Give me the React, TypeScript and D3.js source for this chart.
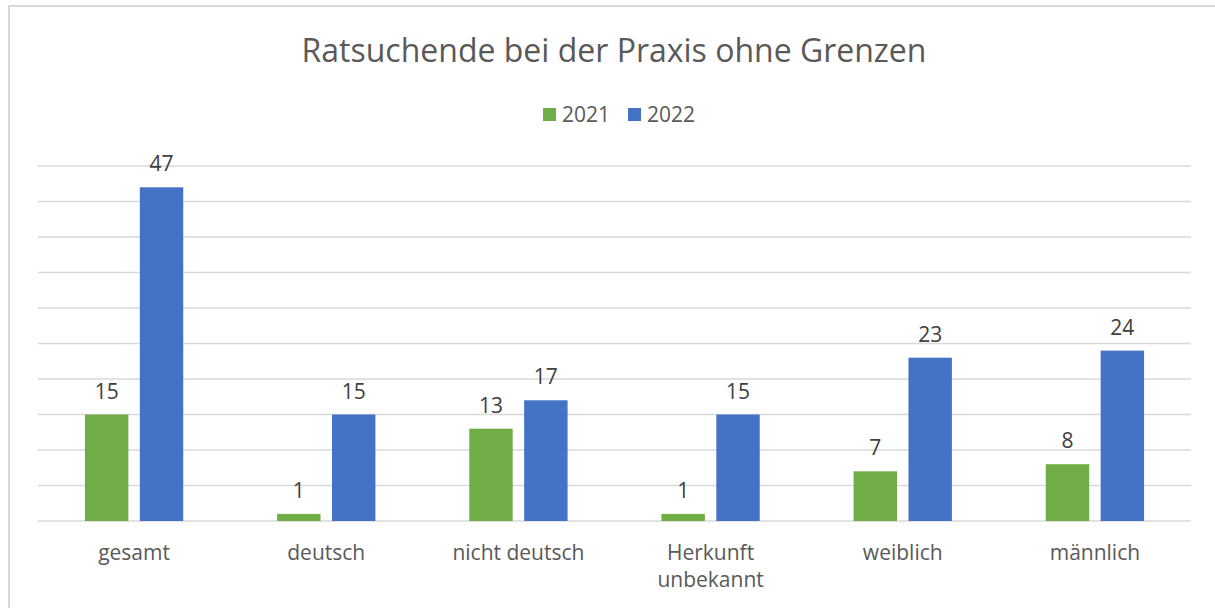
import React, { useEffect, useRef } from "react";
import { select, scaleBand, scaleLinear, range } from "d3";

const categories = ["gesamt", "deutsch", "nicht deutsch", "Herkunft unbekannt", "weiblich", "männlich"];
const categoryLines = [["gesamt"], ["deutsch"], ["nicht deutsch"], ["Herkunft", "unbekannt"], ["weiblich"], ["männlich"]];
const seriesNames = ["2021", "2022"];
const values2021 = [15, 1, 13, 1, 7, 8];
const values2022 = [47, 15, 17, 15, 23, 24];
const yTicks = range(0, 51, 5);

const colors = { "2021": "#70AD47", "2022": "#4472C4" };
const FONT = "'Segoe UI', 'Open Sans', sans-serif";

const App = () => {
  const svgRef = useRef<SVGSVGElement>(null);

  useEffect(() => {
    const svg = select(svgRef.current);
    svg.selectAll("*").remove();

    // outer frame
    svg.append("rect")
      .attr("x", 9).attr("y", 6)
      .attr("width", 1230).attr("height", 640)
      .attr("fill", "#fff")
      .attr("stroke", "#d9d9d9")
      .attr("stroke-width", 2);

    const x = scaleBand().domain(categories).range([38, 1191]).padding(0);
    const x1 = scaleBand().domain(seriesNames).range([0, x.bandwidth()])
      .paddingInner(0.209).paddingOuter(0.855);
    const y = scaleLinear().domain([0, 50]).range([521, 166]);

    svg.append("g").selectAll("line")
      .data(yTicks)
      .join("line")
      .attr("x1", 38).attr("x2", 1191)
      .attr("y1", (d) => y(d)).attr("y2", (d) => y(d))
      .attr("stroke", "#d9d9d9")
      .attr("stroke-width", 1.5);

    const rows = categories.map((c, i) => ({ c, v: { "2021": values2021[i], "2022": values2022[i] } }));
    const groups = svg.append("g").selectAll("g")
      .data(rows)
      .join("g")
      .attr("transform", (d) => `translate(${x(d.c)},0)`);

    seriesNames.forEach((s) => {
      groups.append("rect")
        .attr("x", x1(s))
        .attr("y", (d) => y(d.v[s]))
        .attr("width", x1.bandwidth())
        .attr("height", (d) => y(0) - y(d.v[s]))
        .attr("fill", colors[s]);
      groups.append("text")
        .attr("x", x1(s) + x1.bandwidth() / 2)
        .attr("y", (d) => y(d.v[s]) - 16)
        .attr("text-anchor", "middle")
        .attr("font-family", FONT)
        .attr("font-size", 21)
        .attr("fill", "#404040")
        .text((d) => d.v[s]);
    });

    // category labels
    categories.forEach((c, i) => {
      const t = svg.append("text")
        .attr("text-anchor", "middle")
        .attr("font-family", FONT)
        .attr("font-size", 21)
        .attr("fill", "#595959");
      categoryLines[i].forEach((line, j) => {
        t.append("tspan")
          .attr("x", x(c) + x.bandwidth() / 2)
          .attr("y", 560 + j * 27)
          .text(line);
      });
    });

    // title
    svg.append("text")
      .attr("x", 614).attr("y", 62)
      .attr("text-anchor", "middle")
      .attr("font-family", FONT)
      .attr("font-size", 32)
      .attr("fill", "#595959")
      .text("Ratsuchende bei der Praxis ohne Grenzen");

    // legend
    const legendX = [543, 628];
    seriesNames.forEach((s, i) => {
      svg.append("rect")
        .attr("x", legendX[i]).attr("y", 108)
        .attr("width", 13).attr("height", 13)
        .attr("fill", colors[s]);
      svg.append("text")
        .attr("x", legendX[i] + 19).attr("y", 122)
        .attr("font-family", FONT)
        .attr("font-size", 21)
        .attr("fill", "#595959")
        .text(s);
    });
  }, []);

  return (
    <svg
      ref={svgRef}
      width={1215}
      height={608}
      style={{ position: "absolute", left: 0, top: 0, background: "#fff" }}
    />
  );
};

export default App;
